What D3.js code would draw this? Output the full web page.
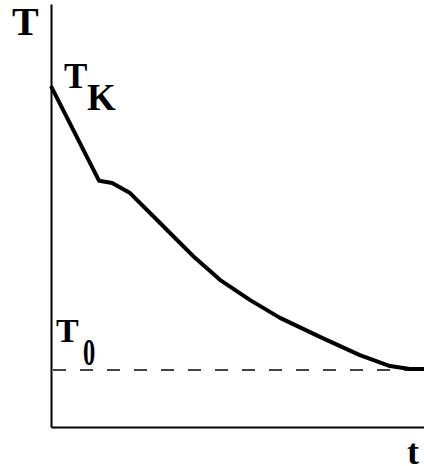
<!DOCTYPE html>
<html>
<head>
<meta charset="utf-8">
<script src="https://cdn.jsdelivr.net/npm/d3@7"></script>
<style>
  body { margin: 0; background: #fff; }
  svg { display: block; }
</style>
</head>
<body>
<div id="chart"></div>
<script>
// cooling curve
const times = [0, 1.29, 1.64, 2.12, 2.79, 3.46, 3.86, 4.53, 5.34, 6.14, 7.21, 8.28, 9.09, 9.62, 10];
const temps = [80.6, 58.2, 57.7, 55.3, 49.4, 43.5, 40.0, 34.8, 30.0, 25.8, 21.3, 17.0, 14.4, 13.7, 13.7];
const T0 = 13.5;

const W = 424, H = 466;
const margin = { top: 4, right: 0, bottom: 39, left: 51 },
    width = W - margin.left - margin.right,
    height = H - margin.top - margin.bottom;

const svg = d3.select("#chart")
  .append("svg")
    .attr("width", W)
    .attr("height", H)
  .append("g")
    .attr("transform", `translate(${margin.left},${margin.top})`);

const x = d3.scaleLinear().domain([0, 10]).range([0, width]);
const y = d3.scaleLinear().domain([0, 100]).range([height, 0]);

// axes, no ticks
svg.append("g")
  .attr("transform", `translate(0, ${height})`)
  .call(d3.axisBottom(x).tickValues([]).tickSizeOuter(0))
  .select(".domain").attr("stroke-width", 2);
svg.append("g")
  .call(d3.axisLeft(y).tickValues([]).tickSizeOuter(0))
  .select(".domain").attr("stroke-width", 2);

// T0 dashed level
svg.append("line")
  .attr("x1", x(0) + 2).attr("x2", x(10))
  .attr("y1", y(T0)).attr("y2", y(T0))
  .attr("stroke", "#444")
  .attr("stroke-width", 2)
  .attr("stroke-dasharray", "13,14");

// curve
const data = times.map((t, i) => [t, temps[i]]);
svg.append("path")
  .datum(data)
  .attr("fill", "none")
  .attr("stroke", "#000")
  .attr("stroke-width", 4)
  .attr("stroke-linejoin", "round")
  .attr("d", d3.line().x(d => x(d[0])).y(d => y(d[1])));

// labels
const root = d3.select("#chart svg");
const serif = "'Liberation Serif', 'Times New Roman', 'DejaVu Serif', serif";
function label(tx, ty, size, txt, sx) {
  root.append("text")
    .attr("transform", `translate(${tx},${ty}) scale(${sx || 1},1)`)
    .attr("font-family", serif)
    .attr("font-weight", "bold")
    .attr("font-size", size)
    .attr("fill", "#000")
    .text(txt);
}
label(12, 35, 40, "T");
label(64, 88, 35, "T");
label(87, 110, 37, "K");
label(56, 342, 34, "T");
label(83, 365, 37, "0", 0.66);
label(407, 464, 36, "t");
</script>
</body>
</html>
